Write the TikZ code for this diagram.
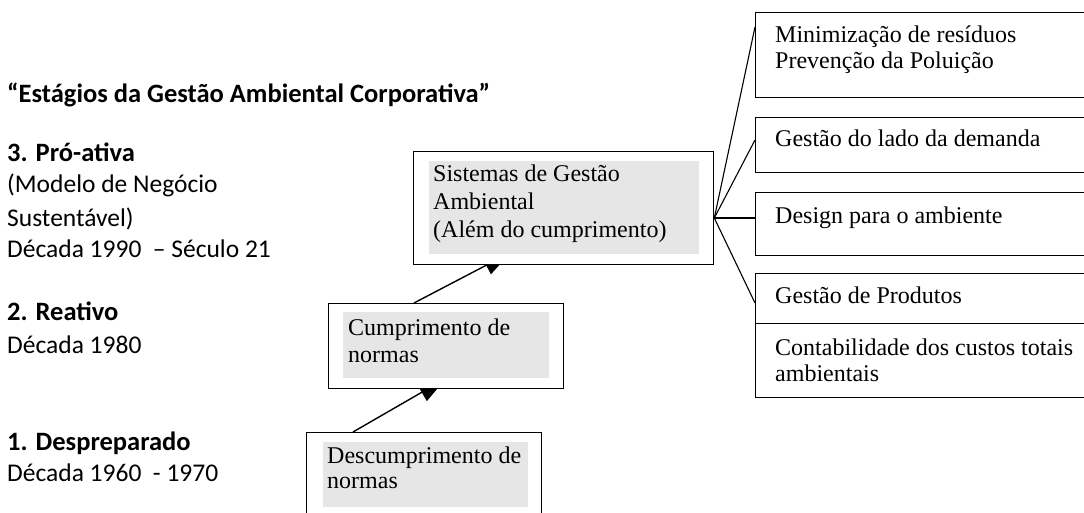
\documentclass[tikz,border=0pt]{standalone}
\usepackage{fontspec}
\setmainfont{Liberation Serif}
\newfontfamily\calfont{Carlito}
\usetikzlibrary{arrows.meta,calc}
\pgfdeclarelayer{back}
\pgfdeclarelayer{arrlayer}
\pgfsetlayers{back,arrlayer,main}
\definecolor{boxgray}{RGB}{230,230,230}
\tikzset{
  outerbox/.style={draw=black, line width=1.3pt, fill=white, inner sep=0pt, anchor=north west},
  graybox/.style={fill=boxgray, inner sep=0pt, anchor=north west},
  boxtext/.style={anchor=base west, inner sep=0pt, align=left, font=\fontsize{24}{26}\selectfont},
  lefttext/.style={anchor=base west, inner sep=0pt, font=\calfont\fontsize{25.5}{31.5}\selectfont},
  leftbold/.style={lefttext, font=\calfont\bfseries\fontsize{26.5}{31.5}\selectfont},
  arr/.style={draw=black, line width=1.4pt, -{Triangle[length=28pt,width=20pt]}},
  fan/.style={draw=black, line width=1.1pt},
}
\begin{document}
\begin{tikzpicture}[x=1pt,y=-1pt]
\useasboundingbox (0,0) rectangle (1084,513);
\clip (0,0) rectangle (1084,513);
\begin{pgfonlayer}{back}
\fill[white] (0,0) rectangle (1084,513);
\end{pgfonlayer}

% left texts
\node[leftbold] (title) at (7,103) {“Estágios da Gestão Ambiental Corporativa”};
\node[leftbold] (s3) at (7,162) {3. Pró-ativa};
\node[lefttext] (s3a) at (7,193) {(Modelo de Negócio};
\node[lefttext] (s3b) at (7,226) {Sustentável)};
\node[lefttext] (s3c) at (7,257) {Década 1990 \ – Século 21};
\node[leftbold] (s2) at (7,320) {2. Reativo};
\node[lefttext] (s2a) at (7,353) {Década 1980};
\node[leftbold] (s1) at (7,450) {1. Despreparado};
\node[lefttext] (s1a) at (7,481) {Década 1960 \ - 1970};

% stage boxes
\node[outerbox, minimum width=235pt, minimum height=100pt] (b1) at (306,432) {};
\node[graybox, minimum width=205pt, minimum height=65pt] (g1) at (323,442) {};
\node[boxtext, font=\fontsize{24}{25}\selectfont] (t1) at (327,488) {Descumprimento de\\normas};

\node[outerbox, minimum width=235pt, minimum height=85pt] (b2) at (328,303) {};
\node[graybox, minimum width=206pt, minimum height=66pt] (g2) at (343,312) {};
\node[boxtext, font=\fontsize{24}{27}\selectfont] (t2) at (348,362) {Cumprimento de\\normas};

\node[outerbox, minimum width=300pt, minimum height=113pt] (b3) at (413,151) {};
\node[graybox, minimum width=270pt, minimum height=93pt] (g3) at (429,161) {};
\node[boxtext, font=\fontsize{24}{28}\selectfont] (t3) at (433,237) {Sistemas de Gestão\\Ambiental\\(Além do cumprimento)};

\begin{pgfonlayer}{arrlayer}
\draw[arr] ($(b1.north west)+(47,0)$) -- ($(b2.south west)+(118,-11)$);
\draw[arr] ($(b2.north west)+(86,0)$) -- ($(b3.south west)+(98,-13)$);
\end{pgfonlayer}

% right boxes
\node[outerbox, minimum width=345pt, minimum height=85pt] (r1) at (755,12) {};
\node[outerbox, minimum width=345pt, minimum height=55pt] (r2) at (755,117) {};
\node[outerbox, minimum width=345pt, minimum height=63pt] (r3) at (755,192) {};
\node[outerbox, minimum width=345pt, minimum height=50pt] (r4) at (755,273) {};
\node[outerbox, minimum width=345pt, minimum height=74pt] (r5) at (755,323) {};

\node[boxtext] (rt1) at (775,69) {Minimização de resíduos\\Prevenção da Poluição};
\node[boxtext] (rt2) at (775,147) {Gestão do lado da demanda};
\node[boxtext] (rt3) at (775,223) {Design para o ambiente};
\node[boxtext] (rt4) at (775,303) {Gestão de Produtos};
\node[boxtext] (rt5) at (775,381) {Contabilidade dos custos totais\\ambientais};

\coordinate (hub) at ($(b3.north east)+(0,67)$);
\draw[fan] (hub) -- ($(r1.north west)+(0,15)$);
\draw[fan] (hub) -- ($(r2.north west)+(0,23)$);
\draw[fan] (hub) -- ($(r3.north west)+(0,26)$);
\draw[fan] (hub) -- ($(r4.north west)+(0,30)$);
\end{tikzpicture}
\end{document}
